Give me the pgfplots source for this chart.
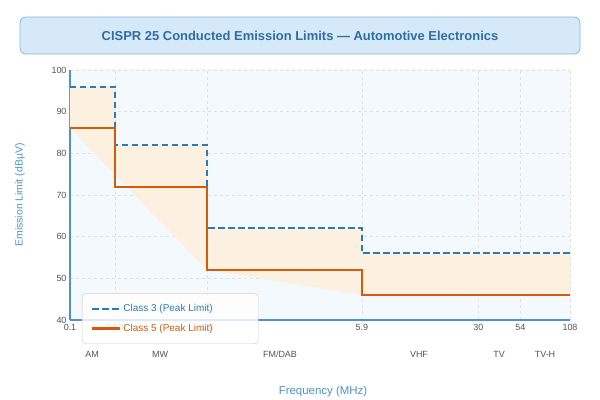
\documentclass[border=0pt]{standalone}
\usepackage{pgfplots}
\pgfplotsset{compat=1.18}
\usepackage{fontspec}
\setmainfont{Liberation Sans}
\definecolor{cthree}{HTML}{2B7BB9}
\definecolor{cfive}{HTML}{D35C0C}
\definecolor{bandfill}{HTML}{FCF0E1}
\definecolor{plotbg}{HTML}{F4F9FE}
\definecolor{titlebg}{HTML}{D6E9F8}
\definecolor{titleedge}{HTML}{86B7E0}
\definecolor{titletext}{HTML}{2E6DA4}
\definecolor{axisblue}{HTML}{4F93C4}
\definecolor{ticktext}{HTML}{555555}

\begin{document}
\begin{tikzpicture}
\path[use as bounding box] (0bp,0bp) rectangle (600bp,400bp);

% title box
\node[draw=titleedge, fill=titlebg, rounded corners=6bp, line width=0.8bp,
      minimum width=560bp, minimum height=37bp, text=titletext,
      font=\bfseries\fontsize{13}{15}\selectfont] at (300bp,364.5bp)
      {CISPR 25 Conducted Emission Limits — Automotive Electronics};

% light frame on top and right of the plot area
\draw[black!22, rounded corners=4bp] (70bp,330bp) -- (570bp,330bp) -- (570bp,80bp);

\begin{axis}[
    at={(70bp,80bp)}, anchor=south west,
    scale only axis, width=500bp, height=250bp,
    xmode=log, xmin=0.1, xmax=108,
    ymin=40, ymax=100,
    ytick={40,50,...,100},
    xtick={0.1,0.1875,0.678,5.9,30,54,108},
    xticklabels={0.1,0.53,1.8,5.9,30,54,108},
    major tick length=0pt,
    axis x line*=bottom, axis y line*=left,
    axis line style={axisblue, line width=1.5bp},
    grid=major,
    major grid style={dash pattern=on 3bp off 3bp, black!12},
    axis background/.style={fill=plotbg},
    tick label style={font=\fontsize{9}{10}\selectfont, text=ticktext},
    /pgf/number format/assume math mode=true,
    xticklabel style={yshift=-1bp},
    legend style={at={(0.024,-0.096)}, anchor=south west,
        fill=white, fill opacity=0.82, text opacity=1, draw=black!20,
        draw opacity=1, rounded corners=4bp, font=\fontsize{10}{12}\selectfont,
        row sep=7bp, inner xsep=9bp, inner ysep=9bp},
    legend cell align=left,
    legend image code/.code={\draw[#1] (0bp,0bp) -- (28bp,0bp);},
]
% shaded margin between the two classes
\addplot[draw=none, fill=bandfill, forget plot] coordinates {
    (0.1,96) (0.1875,96) (0.1875,82) (0.678,82) (0.678,62) (5.9,62)
    (5.9,56) (108,56) (108,46) (5.9,46) (0.678,52) (0.1,86)} -- cycle;

\addplot[cthree, line width=2.3bp, dash pattern=on 6.5bp off 3.5bp, const plot]
    coordinates {(0.1,96) (0.1875,82) (0.678,62) (5.9,56) (108,56)};
\addlegendentry{\makebox[124bp][l]{\textcolor{cthree}{Class 3 (Peak Limit)}}}

\addplot[cfive, line width=2.3bp, const plot]
    coordinates {(0.1,86) (0.1875,72) (0.678,52) (5.9,46) (108,46)};
\addlegendentry{\makebox[124bp][l]{\textcolor{cfive}{Class 5 (Peak Limit)}}}
\end{axis}

% band labels
\begin{scope}[every node/.style={text=ticktext, font=\fontsize{9}{10}\selectfont}]
\node at (92bp,46bp) {AM};
\node at (160bp,46bp) {MW};
\node at (280bp,46bp) {FM/DAB};
\node at (419bp,46bp) {VHF};
\node at (499bp,46bp) {TV};
\node at (545bp,46bp) {TV-H};
\end{scope}

\node[rotate=90, text=axisblue, font=\fontsize{10.5}{12}\selectfont] at (20bp,205bp)
    {Emission Limit (dBµV)};
\node[text=axisblue, font=\fontsize{11.5}{13}\selectfont] at (323bp,8bp)
    {Frequency (MHz)};
\end{tikzpicture}
\end{document}
